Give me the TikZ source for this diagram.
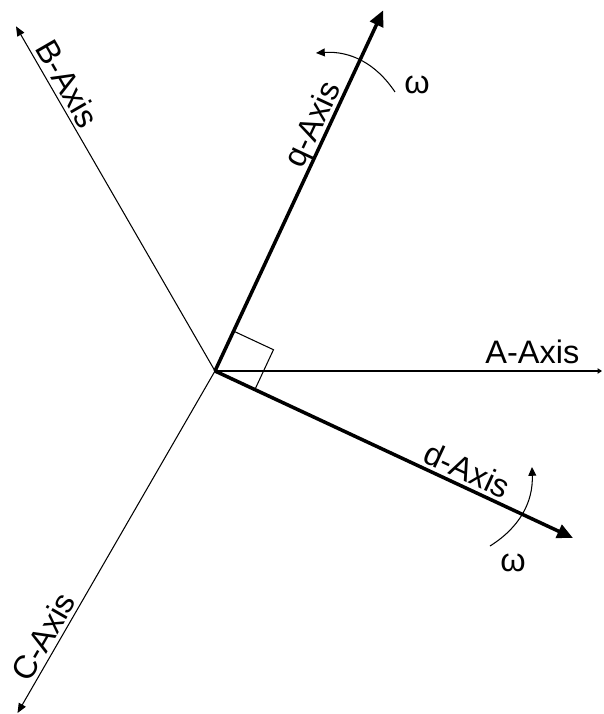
\documentclass[tikz,border=0pt]{standalone}
\usepackage{fontspec}
\setmainfont{Liberation Sans}
\usepackage{tikz}
\usetikzlibrary{arrows.meta}

\begin{document}
\begin{tikzpicture}[x=0.02cm, y=0.02cm, every node/.style={font=\fontsize{18.5}{22}\selectfont}, axis/.style={-{Triangle[length=5.5pt,width=4.5pt]}, line width=0.6pt}, dqaxis/.style={-{Triangle[length=9pt,width=8pt]}, line width=2pt}, rotarrow/.style={-{Triangle[length=5pt,width=4.5pt]}, line width=0.6pt, bend right=30}, lbl/.style={sloped, anchor=base, inner sep=0pt}]
\useasboundingbox (-215,-343) rectangle (388,371);
\coordinate (O) at (0,0);
\coordinate (A) at (387,0);
\coordinate (B) at (120:398);
\coordinate (C) at (240:395);
\coordinate (q) at (65:398);
\coordinate (d) at (-25:395);
% stator axes
\draw[axis, -{Triangle[length=2.5pt,width=3pt]}] (O) -- (A) node[lbl, pos=0.82, yshift=4pt] {A-Axis};
\draw[axis] (O) -- (B) node[lbl, pos=0.81, yshift=2.5pt] {B-Axis};
\draw[axis] (O) -- (C) node[lbl, pos=0.80, yshift=2.5pt] {C-Axis};
% rotating frame
\draw[line width=0.6pt] (O) ++(65:44) -- ++(-25:44) -- ++(-115:44);
\draw[dqaxis] (O) -- (q) node[lbl, pos=0.665, yshift=3pt] {q-Axis};
\draw[dqaxis] (O) -- (d) node[lbl, pos=0.685, yshift=3pt] {d-Axis};
\coordinate (q1) at (180,279); \coordinate (q2) at (101,318);
\coordinate (d1) at (275,-175); \coordinate (d2) at (317,-96);
\draw[rotarrow] (q1) to (q2);
\draw[rotarrow] (d1) to (d2);
\node (wq) at (202,286) {ω};
\node (wd) at (298,-192) {ω};
\end{tikzpicture}
\end{document}
